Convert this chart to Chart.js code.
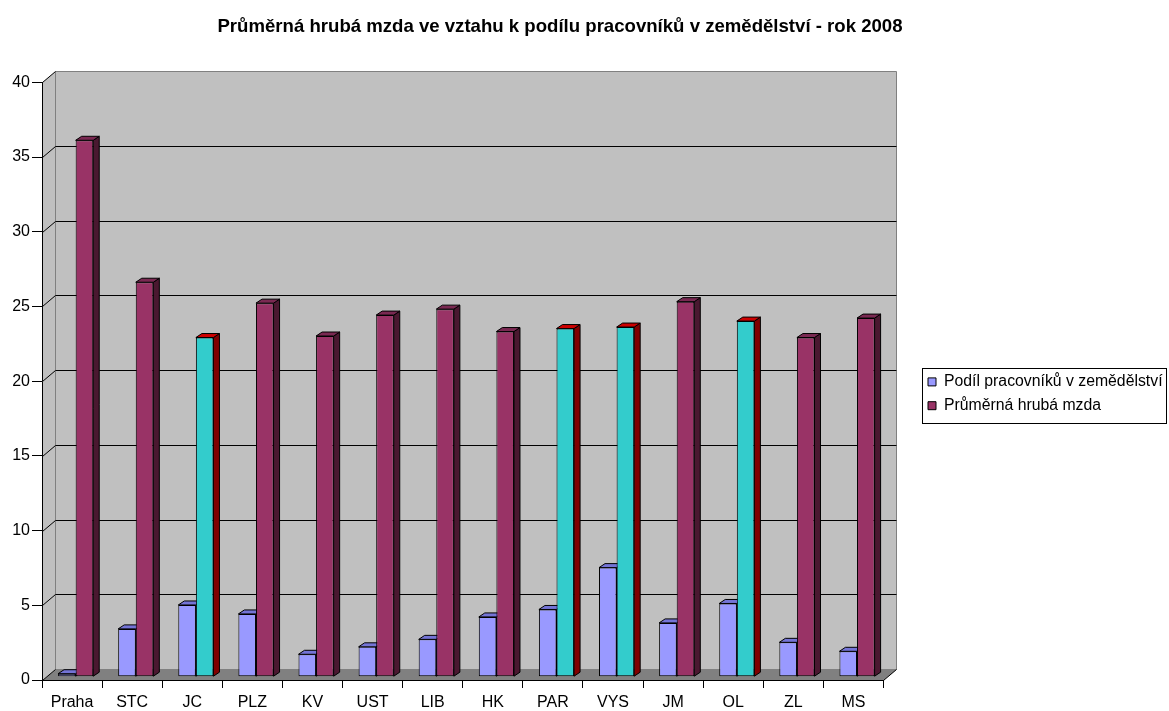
<!DOCTYPE html>
<html>
<head>
<meta charset="utf-8">
<title>Průměrná hrubá mzda ve vztahu k podílu pracovníků v zemědělství</title>
<script src="https://cdn.jsdelivr.net/npm/chart.js@4/dist/chart.umd.min.js"></script>
<style>
    html, body { margin: 0; padding: 0; background: #fff; }
    #wrap { width: 1169px; height: 711px; }
</style>
</head>
<body>
<div id="wrap"><canvas id="mzdaWidget"></canvas></div>
<script>
const regions = ["Praha", "STC", "JC", "PLZ", "KV", "UST", "LIB", "HK", "PAR", "VYS", "JM", "OL", "ZL", "MS"]
const podilZemedelstvi = [0.2, 3.2, 4.8, 4.2, 1.5, 2.0, 2.5, 4.0, 4.5, 7.3, 3.6, 4.9, 2.3, 1.7]
const prumernaMzda = [35.9, 26.4, 22.7, 25.0, 22.8, 24.2, 24.6, 23.1, 23.3, 23.4, 25.1, 23.8, 22.7, 24.0]
const highlighted = ["JC", "PAR", "VYS", "OL"]
const yMax = 40
const yStep = 5

const fontFamily = "'Liberation Sans', Arial, sans-serif"

// 3d look: wall offset, bar depth position, bar thickness
const WALL_DX = 13, WALL_DY = -11
const BAR_DX = 3.6, BAR_DY = -3.3
const DEPTH_DX = 6, DEPTH_DY = -4

const shades = {
    "#9999FF": ["#7474d6", "#4f4f9e"],
    "#993366": ["#7a2952", "#4a1830"],
    "#33CCCC": ["#cc0000", "#800000"]
}

function poly(ctx, pts, fill, stroke) {
    ctx.beginPath()
    ctx.moveTo(pts[0][0], pts[0][1])
    for (let i = 1; i < pts.length; i++) ctx.lineTo(pts[i][0], pts[i][1])
    ctx.closePath()
    if (fill) { ctx.fillStyle = fill; ctx.fill() }
    if (stroke) { ctx.strokeStyle = stroke; ctx.lineWidth = 1; ctx.stroke() }
}

function line(ctx, x1, y1, x2, y2, color) {
    ctx.beginPath()
    ctx.moveTo(x1, y1)
    ctx.lineTo(x2, y2)
    ctx.strokeStyle = color
    ctx.lineWidth = 1
    ctx.stroke()
}

const excel3d = {
    id: "excel3d",
    afterLayout(chart) {
        // put the legend where excel had it
        const lg = chart.legend
        const w = lg.width
        lg.left = 920
        lg.right = lg.left + w
        lg.top = 366
        lg.bottom = 700
    },
    beforeDraw(chart) {
        const ctx = chart.ctx
        const a = chart.chartArea
        const y = chart.scales.y
        const L = Math.round(a.left) + 0.5, R = Math.round(a.right) + 0.5
        const T = Math.round(a.top) + 0.5, B = Math.round(a.bottom) + 0.5
        ctx.save()
        // left wall, back wall, floor
        poly(ctx, [[L, T], [L + WALL_DX, T + WALL_DY], [L + WALL_DX, B + WALL_DY], [L, B]], "#c0c0c0")
        poly(ctx, [[L + WALL_DX, T + WALL_DY], [R + WALL_DX, T + WALL_DY], [R + WALL_DX, B + WALL_DY], [L + WALL_DX, B + WALL_DY]], "#c0c0c0", "#808080")
        poly(ctx, [[L, B], [L + WALL_DX, B + WALL_DY], [R + WALL_DX, B + WALL_DY], [R, B]], "#808080")
        for (let v = 0; v <= yMax; v += yStep) {
            const py = Math.round(y.getPixelForValue(v)) + 0.5
            if (v > 0 && v < yMax) line(ctx, L + WALL_DX, py + WALL_DY, R + WALL_DX, py + WALL_DY, "#000")
            line(ctx, L, py, L + WALL_DX, py + WALL_DY, "#000")
        }
        line(ctx, R, B, R + WALL_DX, B + WALL_DY, "#000")
        ctx.restore()
    },
    beforeDatasetsDraw(chart) {
        const ctx = chart.ctx
        ctx.save()
        ctx.translate(BAR_DX, BAR_DY)
        chart.data.datasets.forEach((ds, i) => {
            chart.getDatasetMeta(i).data.forEach((bar) => {
                const p = bar.getProps(["x", "y", "base", "width"])
                const l = p.x - p.width / 2, r = p.x + p.width / 2
                const sh = shades[bar.options.backgroundColor]
                poly(ctx, [[r, p.y], [r + DEPTH_DX, p.y + DEPTH_DY], [r + DEPTH_DX, p.base + DEPTH_DY], [r, p.base]], sh[1], "#000")
                poly(ctx, [[l, p.y], [l + DEPTH_DX, p.y + DEPTH_DY], [r + DEPTH_DX, p.y + DEPTH_DY], [r, p.y]], sh[0], "#000")
            })
        })
    },
    afterDatasetsDraw(chart) {
        chart.ctx.restore()
    },
    afterDraw(chart) {
        const ctx = chart.ctx
        const hb = chart.legend.legendHitBoxes
        if (!hb || !hb.length) return
        const left = hb[0].left - 6.5
        const top = hb[0].top - 6.5
        const last = hb[hb.length - 1]
        const bottom = last.top + last.height + 8.5
        const right = Math.min(chart.width - 3.5, Math.max(...hb.map(h => h.left + h.width)) + 3.5)
        ctx.save()
        ctx.strokeStyle = "#000"
        ctx.lineWidth = 1
        ctx.strokeRect(Math.round(left) + 0.5, Math.round(top) + 0.5, Math.round(right - left), Math.round(bottom - top))
        ctx.restore()
    }
}

const mzdaWidget = document.getElementById("mzdaWidget")
const mzdaChart = new Chart(mzdaWidget, {
    type: "bar",
    data: {
        labels: regions,
        datasets: [{
            label: "Podíl pracovníků v zemědělství",
            data: podilZemedelstvi,
            backgroundColor: "#9999FF",
            borderColor: "#000",
            borderWidth: 1,
            borderSkipped: false
        }, {
            label: "Průměrná hrubá mzda",
            data: prumernaMzda,
            backgroundColor: (c) => highlighted.includes(regions[c.dataIndex]) ? "#33CCCC" : "#993366",
            borderColor: "#000",
            borderWidth: 1,
            borderSkipped: false
        }]
    },
    options: {
        responsive: true,
        maintainAspectRatio: false,
        animation: false,
        datasets: {
            bar: { categoryPercentage: 0.585, barPercentage: 1 }
        },
        layout: { padding: { left: -16, right: 33, top: 0, bottom: 0 } },
        plugins: {
            title: {
                display: true,
                text: "Průměrná hrubá mzda ve vztahu k podílu pracovníků v zemědělství - rok 2008",
                color: "#000",
                font: { family: fontFamily, size: 18.6, weight: "bold" },
                padding: { top: 16, bottom: 44 }
            },
            legend: {
                position: "right",
                align: "start",
                labels: {
                    color: "#000",
                    font: { family: fontFamily, size: 15.8 },
                    boxWidth: 8,
                    boxHeight: 8,
                    padding: 8
                }
            },
            tooltip: { enabled: false }
        },
        scales: {
            x: {
                grid: { offset: true, drawOnChartArea: false, color: "#000", tickLength: 8 },
                border: { color: "#000" },
                ticks: { color: "#000", font: { family: fontFamily, size: 16 }, padding: 5, maxRotation: 0, autoSkip: false },
                afterFit(scale) { scale.height = 31 }
            },
            y: {
                min: 0,
                max: yMax,
                grid: { drawOnChartArea: false, color: "#000", tickLength: 10 },
                border: { color: "#000" },
                ticks: { stepSize: yStep, color: "#000", font: { family: fontFamily, size: 16 }, padding: 2 },
                afterFit(scale) { scale.width = 58 }
            }
        }
    },
    plugins: [excel3d]
})
</script>
</body>
</html>
